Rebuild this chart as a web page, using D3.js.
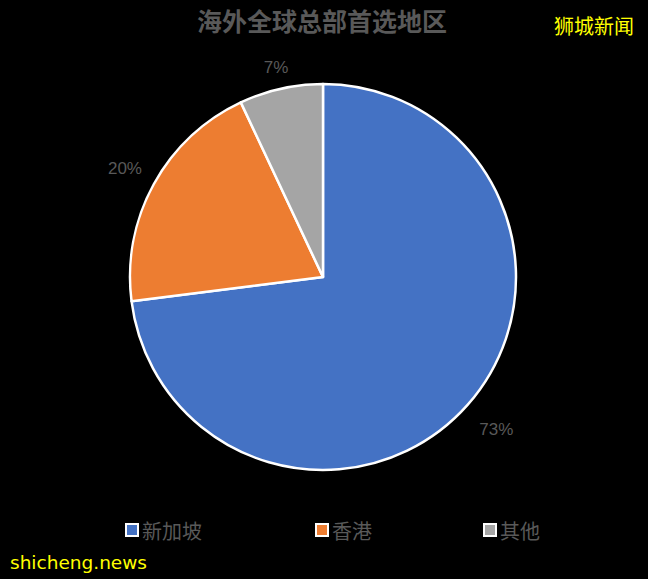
<!DOCTYPE html>
<html>
<head>
<meta charset="utf-8">
<script src="https://cdn.jsdelivr.net/npm/d3@7"></script>
<style>
  html, body { margin: 0; padding: 0; background: #000; }
  svg { display: block; }
</style>
</head>
<body>
<svg id="chart" width="648" height="579"></svg>
<script>
// chart data
const categories = ["新加坡", "香港", "其他"];
const shares = [73, 20, 7];
const colors = ["#4472c4", "#ed7d31", "#a5a5a5"];

const W = 648, H = 579;
const cx = 323, cy = 277, radius = 193;
const labelRadius = [231, 226, 215];   // outside-end label distances
const font = "'Noto Sans CJK SC', 'Noto Sans', sans-serif";

const svg = d3.select("#chart");
svg.append("rect").attr("width", W).attr("height", H).attr("fill", "#000");

// title
svg.append("text")
  .attr("x", 322).attr("y", 31)
  .attr("text-anchor", "middle")
  .attr("fill", "#595959")
  .style("font-family", font)
  .style("font-size", "25px")
  .style("font-weight", "bold")
  .text("海外全球总部首选地区");

// pie
const pie = d3.pie().sort(null).value(d => d);
const arcs = pie(shares);
const arc = d3.arc().innerRadius(0).outerRadius(radius);

const g = svg.append("g").attr("transform", `translate(${cx},${cy})`);
g.selectAll("path")
  .data(arcs)
  .join("path")
  .attr("d", arc)
  .attr("fill", (d, i) => colors[i])
  .attr("stroke", "#fff")
  .attr("stroke-width", 2.5)
  .attr("stroke-linejoin", "round");

g.selectAll("text.pct")
  .data(arcs)
  .join("text")
  .attr("class", "pct")
  .attr("transform", (d, i) => {
    const r = labelRadius[i];
    return `translate(${d3.arc().innerRadius(r).outerRadius(r).centroid(d)})`;
  })
  .attr("text-anchor", "middle")
  .attr("dominant-baseline", "central")
  .attr("fill", "#595959")
  .style("font-family", "'Liberation Sans', 'DejaVu Sans', sans-serif")
  .style("font-size", "17px")
  .text(d => `${d.data}%`);

// legend
const legendX = [126, 316, 484];
const legend = svg.append("g").selectAll("g")
  .data(categories)
  .join("g")
  .attr("transform", (d, i) => `translate(${legendX[i]},530)`);
legend.append("rect")
  .attr("x", 0).attr("y", -6)
  .attr("width", 12).attr("height", 12)
  .attr("fill", (d, i) => colors[i])
  .attr("stroke", "#fff")
  .attr("stroke-width", 2);
legend.append("text")
  .attr("x", 16).attr("y", 0)
  .attr("dominant-baseline", "central")
  .attr("fill", "#595959")
  .style("font-family", font)
  .style("font-size", "20px")
  .text(d => d);

// watermarks
svg.append("text")
  .attr("x", 634).attr("y", 34)
  .attr("text-anchor", "end")
  .attr("fill", "#ffff00")
  .style("font-family", font)
  .style("font-size", "20px")
  .text("狮城新闻");

svg.append("text")
  .attr("x", 10).attr("y", 569)
  .attr("fill", "#ffff00")
  .style("font-family", "'DejaVu Sans', sans-serif")
  .style("font-size", "18.5px")
  .text("shicheng.news");
</script>
</body>
</html>
